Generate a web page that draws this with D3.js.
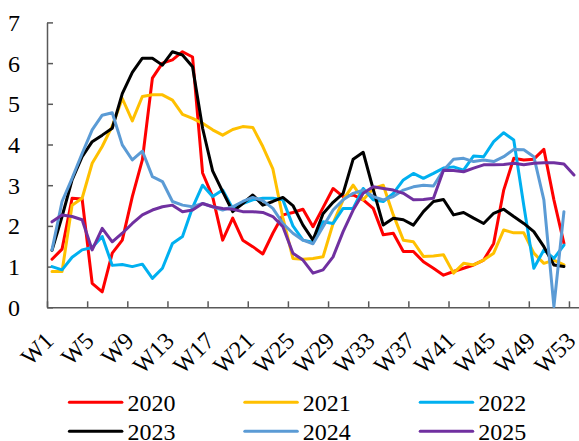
<!DOCTYPE html>
<html>
<head>
<meta charset="utf-8">
<script src="https://cdn.jsdelivr.net/npm/d3@7/dist/d3.min.js"></script>
<style>
  html, body { margin: 0; padding: 0; background: #fff; }
  svg { display: block; }
  text { font-family: "Times New Roman", "Liberation Serif", serif; fill: #000; }
</style>
</head>
<body>
<svg id="chart" width="579" height="441"></svg>
<script>
const weeks = d3.range(1, 54).map(i => "W" + i);
const tickLabels = ["W1","W5","W9","W13","W17","W21","W25","W29","W33","W37","W41","W45","W49","W53"];
const yTicks = [0,1,2,3,4,5,6,7];
const seriesNames = ["2020","2021","2022","2023","2024","2025"];
const seriesColors = ["#FF0000","#FFC000","#00B0F0","#000000","#5B9BD5","#7030A0"];

const v2020 = [1.18,1.43,2.68,2.66,0.59,0.38,1.33,1.65,2.72,3.62,5.63,6.0,6.08,6.28,6.15,3.3,2.72,1.65,2.19,1.65,1.49,1.31,1.82,2.27,2.33,2.41,1.98,2.45,2.92,2.72,2.76,2.64,2.43,1.78,1.82,1.37,1.37,1.12,0.96,0.79,0.88,0.96,1.04,1.16,1.57,2.88,3.66,3.62,3.64,3.88,2.64,1.57];
const v2021 = [0.88,0.88,2.51,2.68,3.54,3.95,4.45,5.13,4.58,5.18,5.22,5.22,5.09,4.74,4.64,4.52,4.36,4.23,4.37,4.44,4.42,3.95,3.4,2.2,1.2,1.18,1.2,1.24,2.06,2.64,3.0,2.64,2.92,3.0,2.27,1.65,1.61,1.25,1.26,1.29,0.84,1.08,1.04,1.16,1.33,1.9,1.83,1.83,1.33,1.08,1.16,1.04];
const v2022 = [1.0,0.92,1.23,1.41,1.47,1.74,1.03,1.05,1.0,1.06,0.71,0.96,1.57,1.74,2.45,3.0,2.72,2.88,2.43,2.55,2.64,2.68,2.68,2.64,2.0,1.65,1.6,2.1,2.06,2.43,2.43,2.92,2.64,2.6,2.8,3.13,3.29,3.17,3.29,3.42,3.45,3.37,3.72,3.7,4.07,4.29,4.11,2.5,0.96,1.41,1.2,1.53];
const v2023 = [1.4,2.23,3.13,3.7,4.07,4.23,4.4,5.25,5.77,6.12,6.12,5.95,6.28,6.2,5.91,4.4,3.35,2.84,2.35,2.55,2.76,2.51,2.6,2.7,2.5,2.02,1.65,2.3,2.58,2.8,3.64,3.81,2.9,2.02,2.19,2.15,2.02,2.35,2.6,2.65,2.27,2.33,2.19,2.06,2.31,2.41,2.23,2.06,1.86,1.49,1.04,1.0];
const v2024 = [1.41,2.6,3.17,3.78,4.36,4.72,4.78,3.99,3.62,3.84,3.21,3.09,2.6,2.51,2.47,2.55,2.47,2.39,2.47,2.6,2.7,2.62,2.43,2.06,1.82,1.65,1.56,1.98,2.39,2.64,2.8,2.88,2.72,2.64,2.72,2.88,2.96,3.0,2.98,3.37,3.64,3.66,3.58,3.62,3.58,3.7,3.88,3.87,3.7,2.64,0.02,2.35];
const v2025 = [2.1,2.27,2.23,2.15,1.41,1.94,1.61,1.82,2.06,2.27,2.39,2.47,2.51,2.35,2.39,2.55,2.47,2.43,2.41,2.35,2.35,2.33,2.23,1.98,1.33,1.16,0.84,0.92,1.24,1.86,2.39,2.8,2.96,2.92,2.88,2.8,2.64,2.65,2.68,3.37,3.36,3.33,3.42,3.5,3.5,3.51,3.54,3.5,3.54,3.55,3.55,3.52,3.25];

const seriesValues = [v2020, v2021, v2022, v2023, v2024, v2025];

const svg = d3.select("#chart");
const plotLeft = 47, plotRight = 579, plotTop = 22.4, plotBottom = 307.3;
const axisColor = "#595959";
const fontStack = '"Times New Roman","Liberation Serif",serif';

const x = d3.scaleBand().domain(weeks).range([plotLeft, plotRight]).padding(0);
const xEdge = d3.scaleLinear().domain([0, weeks.length]).range([plotLeft, plotRight]);
const y = d3.scaleLinear().domain([0, 7]).range([plotBottom, plotTop]);

// Y axis
const yAxis = svg.append("g").attr("transform", `translate(${plotLeft},0)`)
  .call(d3.axisLeft(y).tickValues(yTicks).tickSizeInner(-6).tickSizeOuter(0).tickPadding(27).tickFormat(d3.format("d")));
yAxis.select(".domain").attr("stroke", axisColor).attr("stroke-width", 1.5);
yAxis.selectAll(".tick line").attr("stroke", axisColor).attr("stroke-width", 1.5);
yAxis.selectAll(".tick text").attr("font-size", 24).attr("font-family", fontStack).attr("fill", "#000").attr("dy", "0.33em");

// X axis line + boundary ticks
const xAxis = svg.append("g").attr("transform", `translate(0,${plotBottom})`)
  .call(d3.axisBottom(xEdge).tickValues(d3.range(0, 53, 4)).tickSizeInner(-6).tickSizeOuter(0).tickFormat(""));
xAxis.select(".domain").attr("stroke", axisColor).attr("stroke-width", 1.5);
xAxis.selectAll(".tick line").attr("stroke", axisColor).attr("stroke-width", 1.5);

// X labels
const xLab = svg.append("g").attr("transform", `translate(0,${plotBottom})`)
  .call(d3.axisBottom(x).tickValues(tickLabels).tickSize(0));
xLab.select(".domain").remove();
xLab.selectAll(".tick text")
  .attr("font-size", 24).attr("font-family", fontStack).attr("fill", "#000")
  .attr("x", 0).attr("y", 0).attr("dy", null)
  .attr("text-anchor", "end")
  .attr("transform", "translate(3,35) rotate(-45)");

// Lines
const line = d3.line().x((d, i) => x(weeks[i]) + x.bandwidth() / 2).y(d => y(d));
seriesValues.forEach((vals, k) => {
  svg.append("path").datum(vals)
    .attr("d", line)
    .attr("fill", "none")
    .attr("stroke", seriesColors[k])
    .attr("stroke-width", 3)
    .attr("stroke-linejoin", "round")
    .attr("stroke-linecap", "round");
});

// Legend
const legX = [69.4, 244.8, 420.2];
const legY = [402.3, 431.3];
seriesNames.forEach((name, k) => {
  const cx = legX[k % 3], cy = legY[Math.floor(k / 3)];
  svg.append("line").attr("x1", cx).attr("x2", cx + 52.5).attr("y1", cy).attr("y2", cy)
    .attr("stroke", seriesColors[k]).attr("stroke-width", 3).attr("stroke-linecap", "round");
  svg.append("text").attr("x", cx + 58).attr("y", cy + 8.2).attr("font-size", 24).attr("font-family", fontStack).text(name);
});
</script>
</body>
</html>
